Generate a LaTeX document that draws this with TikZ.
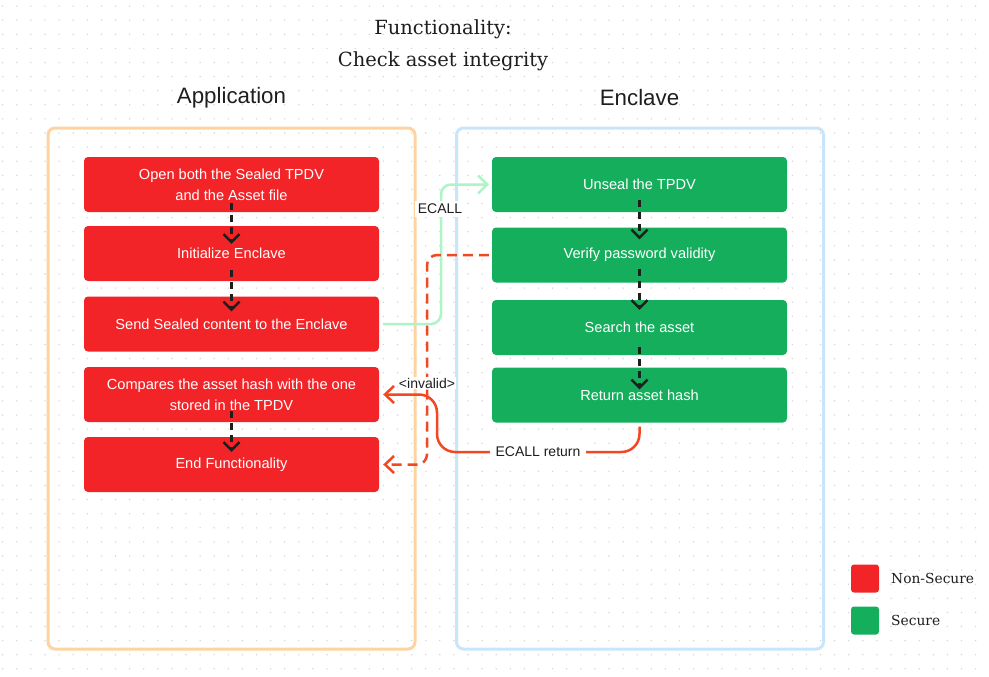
\documentclass[tikz,border=0pt]{standalone}
\usepackage{fontspec}
\setmainfont{Liberation Sans}
\newfontfamily\serifx{DejaVu Serif}
\usetikzlibrary{arrows.meta}
\definecolor{boxred}{HTML}{F32427}
\definecolor{boxgreen}{HTML}{15AE5C}
\definecolor{appframe}{HTML}{FFD3A0}
\definecolor{encframe}{HTML}{C7E6FC}
\definecolor{lightgreen}{HTML}{AFF4C6}
\definecolor{linkred}{HTML}{F24822}
\definecolor{ink}{HTML}{1E1E1E}
\definecolor{dotc}{HTML}{D6D6D6}
\tikzset{
  stepbox/.style={rectangle, rounded corners=4pt, minimum width=295pt, minimum height=55pt,
    text=white, align=center, inner sep=0pt, font=\fontsize{14.6}{21}\selectfont},
  redbox/.style={stepbox, fill=boxred},
  greenbox/.style={stepbox, fill=boxgreen},
  frame/.style={rectangle, rounded corners=7pt, line width=3pt, minimum width=367pt, minimum height=521pt, inner sep=0pt},
  flow/.style={ink, line width=2.5pt, dash pattern=on 7pt off 5pt, -{Straight Barb[length=8pt,width=16pt]}},
  linklabel/.style={fill=white, text=ink, font=\fontsize{14}{16}\selectfont, inner sep=3pt},
  header/.style={text=ink, font=\fontsize{22.3}{25}\selectfont},
  legendsq/.style={rectangle, rounded corners=3pt, minimum width=28pt, minimum height=28pt, inner sep=0pt},
  legendtxt/.style={anchor=west, text=ink, font=\serifx\fontsize{13.8}{16}\selectfont, inner sep=0pt}
}
\begin{document}
\begin{tikzpicture}[x=1pt,y=-1pt]
\useasboundingbox (0,0) rectangle (989,677);
\fill[white] (0,0) rectangle (989,677);
\foreach \i in {0,...,69} {\foreach \j in {0,...,47} {\fill[dotc] (2.7+14.1*\i, 6.1+14.1*\j) circle (0.8pt);}}

% title
\node[text=ink, align=center, font=\serifx\fontsize{19.5}{32}\selectfont] (title) at (443,45) {Functionality:\\Check asset integrity};

% headers
\node[header] (happ) at (231.5,98) {Application};
\node[header] (henc) at (639.5,98) {Enclave};

% containers
\node[frame, draw=appframe] (app) at (231.5,388.5) {};
\node[frame, draw=encframe] (enc) at (640,388.5) {};

% application steps
\node[redbox] (a1) at (231.5,184.5) {Open both the Sealed TPDV\\and the Asset file};
\node[redbox] (a2) at (231.5,253.5) {Initialize Enclave};
\node[redbox] (a3) at (231.5,324) {Send Sealed content to the Enclave};
\node[redbox] (a4) at (231.5,394.5) {Compares the asset hash with the one\\stored in the TPDV};
\node[redbox] (a5) at (231.5,464.5) {End Functionality};

% enclave steps
\node[greenbox] (e1) at (639.5,184.5) {Unseal the TPDV};
\node[greenbox] (e2) at (639.5,255) {Verify password validity};
\node[greenbox] (e3) at (639.5,327.5) {Search the asset};
\node[greenbox] (e4) at (639.5,395) {Return asset hash};

% internal flows
\draw[flow] ([yshift=9pt]a1.south) -- ([yshift=-18pt]a2.north);
\draw[flow] ([yshift=11pt]a2.south) -- ([yshift=-15pt]a3.north);
\draw[flow] ([yshift=11pt]a4.south) -- ([yshift=-15pt]a5.north);
\draw[flow] ([yshift=12pt]e1.south) -- ([yshift=-12pt]e2.north);
\draw[flow] ([yshift=14pt]e2.south) -- ([yshift=-10pt]e3.north);
\draw[flow] ([yshift=8pt]e3.south) -- ([yshift=-22pt]e4.north);

% ECALL
\coordinate (gx) at (441,250);
\draw[lightgreen, line width=2.5pt, rounded corners=10pt, -{Straight Barb[length=9pt,width=18pt]},
  shorten <=4pt, shorten >=3pt] (a3.east) -| (gx) |- (e1.west);
\node[linklabel] (lecall) at (440,209) {ECALL};

% invalid
\coordinate (rx) at (427,350);
\draw[linkred, line width=2.5pt, dash pattern=on 10pt off 6pt, rounded corners=10pt,
  -{Straight Barb[length=9pt,width=17pt]}, shorten <=3pt, shorten >=4pt] (e2.west) -| (rx) |- (a5.east);
\node[linklabel, inner sep=1pt] (linv) at (427,383) {<invalid>};

% ECALL return
\coordinate (rc) at (437,452);
\draw[linkred, line width=2.5pt, rounded corners=18pt,
  -{Straight Barb[length=9pt,width=17pt]}, shorten <=4pt, shorten >=4pt] (e4.south) |- (rc) |- (a4.east);
\node[linklabel, inner sep=6pt] (lret) at (538,452) {ECALL return};

% legend
\node[legendsq, fill=boxred] (lgr) at (865,578.5) {};
\node[legendsq, fill=boxgreen] (lgg) at (865,620.5) {};
\node[legendtxt] (lgrt) at (891,578.5) {Non-Secure};
\node[legendtxt] (lggt) at (891,620.5) {Secure};
\end{tikzpicture}
\end{document}
